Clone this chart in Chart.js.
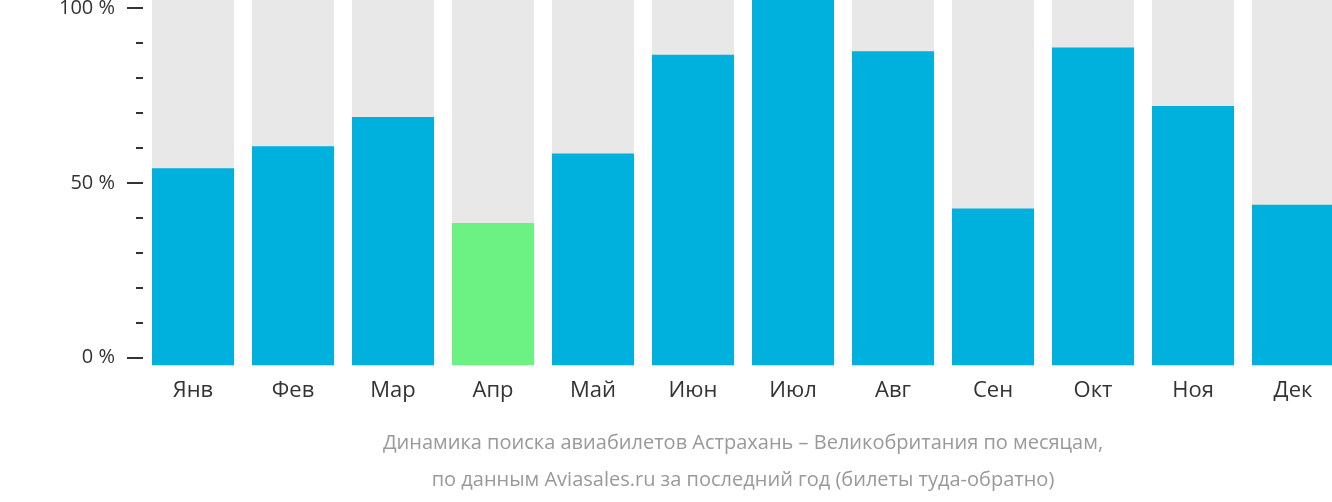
<!DOCTYPE html>
<html><head><meta charset="utf-8">
<script src="https://cdn.jsdelivr.net/npm/chart.js@4"></script>
<style>html,body{margin:0;padding:0;overflow:hidden;background:#fff}#w{width:1343px;height:502px}</style>
</head><body><div id="w"><canvas id="c"></canvas></div>
<script>
const months = ["Янв","Фев","Мар","Апр","Май","Июн","Июл","Авг","Сен","Окт","Ноя","Дек"];
const values = [54, 60, 68, 39, 58, 85, 100, 86, 43, 87, 71, 44];
const full = [100,100,100,100,100,100,100,100,100,100,100,100];
const highlightIndex = 3;
const tickValues = [0,10,20,30,40,50,60,70,80,90,100];
const tickLabels = {0:"0 %",50:"50 %",100:"100 %"};
const titleLines = ["Динамика поиска авиабилетов Астрахань – Великобритания по месяцам,","по данным Aviasales.ru за последний год (билеты туда-обратно)"];

const tickPlugin = {id:"ticks2", afterDraw(chart){
  const s = chart.scales.y2, ctx = chart.ctx, a = chart.chartArea;
  ctx.save(); ctx.strokeStyle="#333"; ctx.lineWidth=2;
  tickValues.forEach(v=>{const y=Math.round(s.getPixelForValue(v));const len=tickLabels[v]?16:7;
    ctx.beginPath();ctx.moveTo(143-len,y);ctx.lineTo(143,y);ctx.stroke();});
  ctx.fillStyle="#999"; ctx.font="20px 'Open Sans'"; ctx.textAlign="center"; ctx.textBaseline="middle";
  const cx = (a.left+a.right)/2;
  ctx.fillText(titleLines[0], cx, 443);
  ctx.fillText(titleLines[1], cx, 480);
  ctx.restore();
}};
Chart.defaults.font.family="'Open Sans'";
new Chart(document.getElementById("c"),{
  type:"bar",
  data:{labels:months,datasets:[
    {data:values,backgroundColor:values.map((v,i)=>i===highlightIndex?"#6cf283":"#00b1dd"),barPercentage:0.82,categoryPercentage:1,grouped:false,order:1},
    {data:full,backgroundColor:"#e8e8e8",barPercentage:0.82,categoryPercentage:1,grouped:false,order:2}
  ]},
  plugins:[tickPlugin],
  options:{responsive:true,maintainAspectRatio:false,animation:false,
    layout:{padding:{top:0,right:0,bottom:94,left:0}},
    plugins:{legend:{display:false},tooltip:{enabled:false},title:{display:false}},
    scales:{
      x:{grid:{display:false},border:{display:false},ticks:{color:"#333",font:{size:22},padding:4}},
      y:{display:false,min:0,max:100},
      y2:{position:"left",min:-2.24,max:102.24,grid:{display:false},border:{display:false},
        afterBuildTicks(s){s.ticks=tickValues.map(v=>({value:v}));},
        afterFit(s){s.width=143;s.paddingTop=0;s.paddingBottom=0;},
        ticks:{color:"#333",font:{size:20},padding:20,autoSkip:false,callback:v=>tickLabels[v]||""}}
    }}
});
</script></body></html>
